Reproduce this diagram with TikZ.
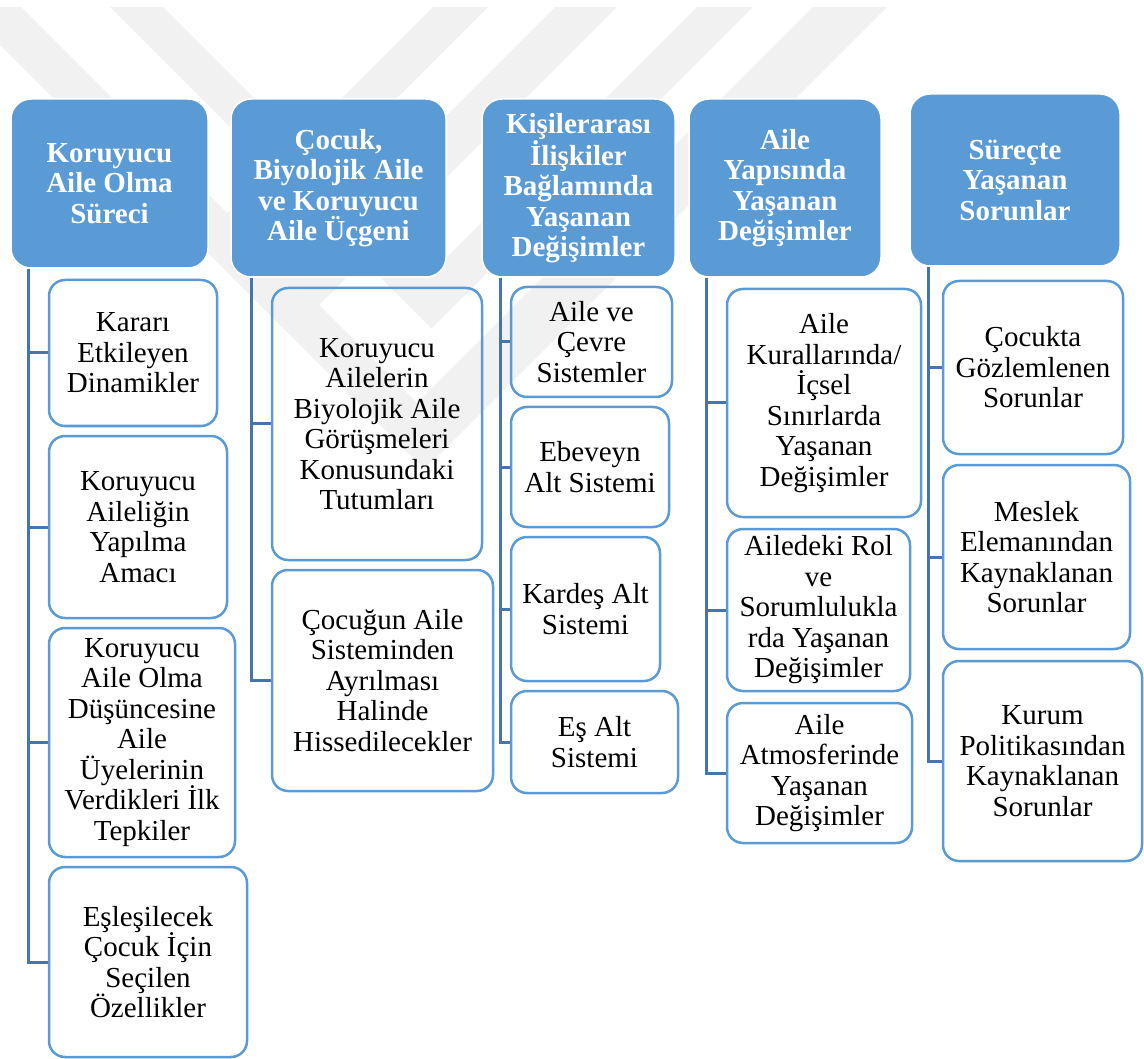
\documentclass[tikz,border=0pt]{standalone}
\usepackage{fontspec}
\setmainfont{Liberation Serif}
\definecolor{headblue}{HTML}{5B9BD5}
\definecolor{tieblue}{HTML}{4674AC}
\definecolor{markgray}{HTML}{F1F1F1}
\begin{document}
\begin{tikzpicture}[x=1pt,y=-1pt]
\tikzstyle{every node}+=[inner sep=0pt]
\tikzstyle{head}=[draw=white, line width=1.5pt, fill=headblue, rounded corners=20pt, text=white, align=center, font=\fontsize{29}{30.5}\selectfont\bfseries]
\tikzstyle{leaf}=[draw=headblue, line width=2.5pt, rounded corners=16pt, align=center, font=\fontsize{29}{30.5}\selectfont]
\tikzstyle{tie}=[draw=tieblue, line width=3pt]
\useasboundingbox (0,0) rectangle (1144,1059);
\begin{scope}
\clip (0,0) rectangle (1144,1059);
\fill [markgray] (-38,7) -- (21,7) -- (417,403) -- (813,7) -- (887,7) -- (424.5,469.5) -- cycle;
\fill [markgray] (110,7) -- (163,7) -- (430,274) -- (697,7) -- (753,7) -- (431.5,328.5) -- cycle;
\fill [markgray] (433,7) -- (488,7) -- (254.5,240.5) -- (227,213) -- cycle;
\fill [markgray] (555,7) -- (617,7) -- (319,305) -- (288,274) -- cycle;
\end{scope}
\node [head, minimum width=197pt, minimum height=169pt] (h1) at (109.5,183.5) {Koruyucu\\Aile Olma\\Süreci};
\node [head, minimum width=215pt, minimum height=178pt] (h2) at (338.5,188) {Çocuk,\\Biyolojik Aile\\ve Koruyucu\\Aile Üçgeni};
\node [head, minimum width=193pt, minimum height=178pt] (h3) at (578.5,188) {Kişilerarası\\İlişkiler\\Bağlamında\\Yaşanan\\Değişimler};
\node [head, minimum width=192pt, minimum height=178pt] (h4) at (785,188) {Aile\\Yapısında\\Yaşanan\\Değişimler};
\node [head, minimum width=210pt, minimum height=172pt] (h5) at (1015,180) {Süreçte\\Yaşanan\\Sorunlar};
\node [leaf, minimum width=168pt, minimum height=146pt] (c11) at (133,353) {Kararı\\Etkileyen\\Dinamikler};
\node [leaf, minimum width=178pt, minimum height=182pt] (c12) at (138,527) {Koruyucu\\Aileliğin\\Yapılma\\Amacı};
\node [leaf, minimum width=186pt, minimum height=229pt] (c13) at (142,742.5) {Koruyucu\\Aile Olma\\Düşüncesine\\Aile\\Üyelerinin\\Verdikleri İlk\\Tepkiler};
\node [leaf, minimum width=198pt, minimum height=190pt] (c14) at (148,962) {Eşleşilecek\\Çocuk İçin\\Seçilen\\Özellikler};
\node [leaf, minimum width=210pt, minimum height=272pt] (c21) at (377,424) {Koruyucu\\Ailelerin\\Biyolojik Aile\\Görüşmeleri\\Konusundaki\\Tutumları};
\node [leaf, minimum width=221pt, minimum height=221pt] (c22) at (382.5,680.5) {Çocuğun Aile\\Sisteminden\\Ayrılması\\Halinde\\Hissedilecekler};
\node [leaf, minimum width=161pt, minimum height=110pt] (c31) at (591.5,342) {Aile ve\\Çevre\\Sistemler};
\node [leaf, minimum width=158pt, minimum height=120pt] (c32) at (590,467) {Ebeveyn\\Alt Sistemi};
\node [leaf, minimum width=149pt, minimum height=144pt] (c33) at (585.5,609) {Kardeş Alt\\Sistemi};
\node [leaf, minimum width=167pt, minimum height=102pt] (c34) at (594.5,742) {Eş Alt\\Sistemi};
\node [leaf, minimum width=194pt, minimum height=228pt] (c41) at (824,403) {Aile\\Kurallarında/\\İçsel\\Sınırlarda\\Yaşanan\\Değişimler};
\node [leaf, minimum width=183pt, minimum height=162pt] (c42) at (818.5,610) {Ailedeki Rol\\ve\\Sorumlulukla\\rda Yaşanan\\Değişimler};
\node [leaf, minimum width=185pt, minimum height=140pt] (c43) at (819.5,773) {Aile\\Atmosferinde\\Yaşanan\\Değişimler};
\node [leaf, minimum width=180pt, minimum height=173pt] (c51) at (1033,367.5) {Çocukta\\Gözlemlenen\\Sorunlar};
\node [leaf, minimum width=187pt, minimum height=184pt] (c52) at (1036.5,557) {Meslek\\Elemanından\\Kaynaklanan\\Sorunlar};
\node [leaf, minimum width=199pt, minimum height=200pt] (c53) at (1042.5,761) {Kurum\\Politikasından\\Kaynaklanan\\Sorunlar};
\coordinate (s1) at ([xshift=18pt]h1.south west);
\coordinate (s2) at ([xshift=21pt]h2.south west);
\coordinate (s3) at ([xshift=19pt]h3.south west);
\coordinate (s4) at ([xshift=18pt]h4.south west);
\coordinate (s5) at ([xshift=19pt]h5.south west);
\draw [tie] (s1) |- (c11.west);
\draw [tie] (s1) |- (c12.west);
\draw [tie] (s1) |- (c13.west);
\draw [tie] (s1) |- (c14.west);
\draw [tie] (s2) |- (c21.west);
\draw [tie] (s2) |- (c22.west);
\draw [tie] (s3) |- (c31.west);
\draw [tie] (s3) |- (c32.west);
\draw [tie] (s3) |- (c33.west);
\draw [tie] (s3) |- (c34.west);
\draw [tie] (s4) |- (c41.west);
\draw [tie] (s4) |- (c42.west);
\draw [tie] (s4) |- (c43.west);
\draw [tie] (s5) |- (c51.west);
\draw [tie] (s5) |- (c52.west);
\draw [tie] (s5) |- (c53.west);
\end{tikzpicture}
\end{document}
